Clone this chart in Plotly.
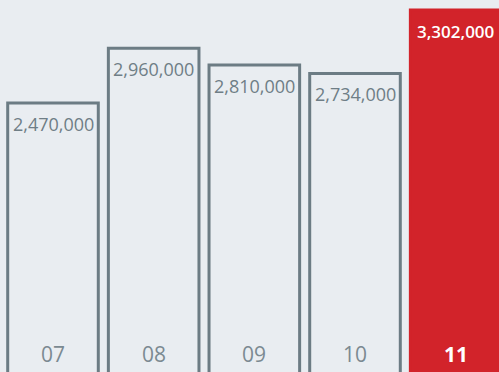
import plotly.graph_objects as go

categories = ["07", "08", "09", "10", "11"]
values = [2470000, 2960000, 2810000, 2734000, 3302000]
value_labels = ["2,470,000", "2,960,000", "2,810,000", "2,734,000", "3,302,000"]

BG = "#e9edf1"
GRAY = "#6c7c84"
TEXT_GRAY = "#6f7e86"
RED = "#d2232a"

xs = list(range(len(categories)))
highlight = [i == len(categories) - 1 for i in xs]

fill_colors = [RED if h else BG for h in highlight]
line_colors = [RED if h else GRAY for h in highlight]

fig = go.Figure()
fig.add_trace(go.Bar(
    x=xs, y=values,
    width=0.9,
    marker=dict(color=fill_colors, line=dict(color=line_colors, width=3)),
    hoverinfo="skip",
))

for i, (x, v, lab, cat) in enumerate(zip(xs, values, value_labels, categories)):
    h = highlight[i]
    fig.add_annotation(
        x=x, y=v, xref="x", yref="y", text=lab, showarrow=False,
        yanchor="middle", yshift=-21,
        font=dict(family="Open Sans", size=17 if h else 18,
                  color="white" if h else TEXT_GRAY,
                  weight=600 if h else 400),
    )
    fig.add_annotation(
        x=x, y=0, xref="x", yref="paper", text=cat, showarrow=False,
        yanchor="middle", yshift=18,
        font=dict(family="Open Sans", size=21,
                  color="white" if h else "#7b8a91",
                  weight=700 if h else 400),
    )

fig.update_layout(
    width=499, height=372,
    margin=dict(l=0, r=0, t=0, b=0),
    paper_bgcolor=BG, plot_bgcolor=BG,
    showlegend=False,
    bargap=0.1,
    xaxis=dict(range=[-0.5265, 4.4305], visible=False, fixedrange=True),
    yaxis=dict(range=[63460, 3391460], visible=False, fixedrange=True),
)

fig.write_html("out.html", config={"displayModeBar": False})
